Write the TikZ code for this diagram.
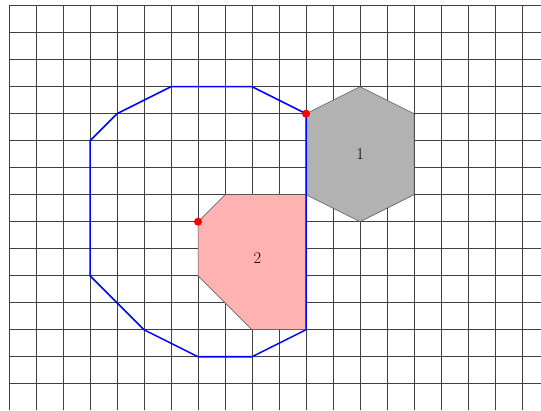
\documentclass[tikz,border=0pt]{standalone}
\usepackage{tikz}
\usepackage{amsmath}

\begin{document}
\begin{tikzpicture}[scale=1,
  gridline/.style={line width=0.6pt, color=black!75},
  obstacle/.style={line width=0.5pt, draw=black!70},
  cspace/.style={line width=1.6pt, color=blue},
  refdot/.style={circle, fill=red, inner sep=0pt, minimum size=0.3cm}]
\useasboundingbox (-0.333,-0.974) rectangle (19.70,14.21);
\draw[gridline] (0,-0.974) grid (19.70,14);
\draw[obstacle][fill=gray!60] (13,11)--(15,10)--(15,7)--(13,6)--(11,7)--(11,10)--cycle;
\draw[obstacle][fill=red!30] (8,7)--(11,7)--(11,2)--(9,2)--(7,4)--(7,6)--cycle;
\node (one) at(13, 8.5) {\LARGE $1$};
\node (two) at(9.2, 4.65) {\LARGE $2$};
\draw[cspace] (6,11)--(9,11)--(11,10)--(11,2)--(9,1)--(7,1)--(5,2)--(3,4)--(3,9)--(4,10)--cycle;
\node[refdot] (refone) at(11,10) {};
\node[refdot] (reftwo) at(7,6) {};
\end{tikzpicture}
\end{document}
